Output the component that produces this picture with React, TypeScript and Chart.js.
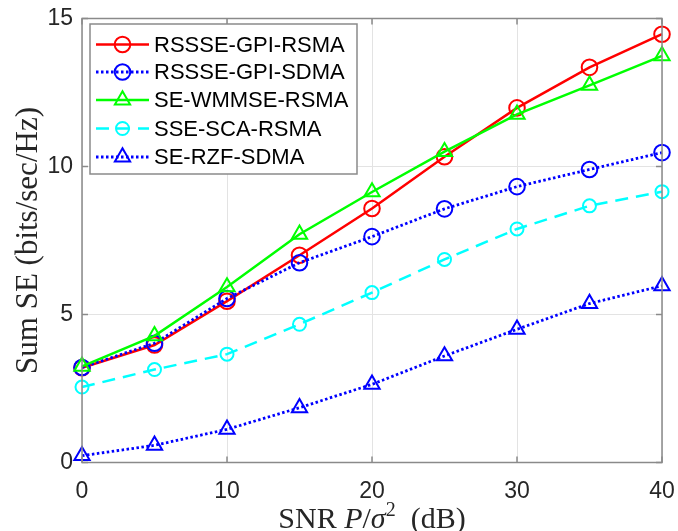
import React, { useEffect, useRef } from "react";
import { Chart, registerables } from "chart.js";

Chart.register(...registerables);

// ---- data ----
const snrDb = [0, 5, 10, 15, 20, 25, 30, 35, 40];
const gpiRsma = [3.2, 3.97, 5.45, 7.0, 8.58, 10.33, 11.98, 13.35, 14.47];
const gpiSdma = [3.21, 4.03, 5.54, 6.75, 7.63, 8.57, 9.32, 9.9, 10.47];
const wmmseRsma = [3.25, 4.28, 5.93, 7.71, 9.14, 10.5, 11.76, 12.74, 13.74];
const scaRsma = [2.55, 3.14, 3.66, 4.67, 5.74, 6.86, 7.89, 8.67, 9.15];
const rzfSdma = [0.23, 0.58, 1.12, 1.85, 2.64, 3.6, 4.5, 5.37, 5.97];
const seriesLabels = ["RSSSE-GPI-RSMA", "RSSSE-GPI-SDMA", "SE-WMMSE-RSMA", "SSE-SCA-RSMA", "SE-RZF-SDMA"];
const xTicks = [0, 10, 20, 30, 40];
const yTicks = [0, 5, 10, 15];

const seriesValues = [gpiRsma, gpiSdma, wmmseRsma, scaRsma, rzfSdma];
const seriesStyles = [
  { color: "#ff0000", dash: [] as number[], marker: "circle", r: 7.8, lw: 2.5 },
  { color: "#0000ff", dash: [2.5, 2.5], marker: "circle", r: 7.8, lw: 2.8 },
  { color: "#00ff00", dash: [] as number[], marker: "triangle", r: 8.8, lw: 2.5 },
  { color: "#00ffff", dash: [13, 8], marker: "circle", r: 6.5, lw: 2.5 },
  { color: "#0000ff", dash: [2.5, 2.5], marker: "triangle", r: 8.8, lw: 2.8 },
];

const AXIS_COLOR = "#8a8a8a";
const TICK_COLOR = "#262626";
const SANS = "'Liberation Sans', Arial, sans-serif";
const SERIF = "'Liberation Serif', 'Times New Roman', serif";

function drawMarker(ctx: CanvasRenderingContext2D, kind: string, x: number, y: number, r: number) {
  ctx.beginPath();
  if (kind === "circle") {
    ctx.arc(x, y, r, 0, Math.PI * 2);
  } else {
    const h = r * 1.5;
    const w = r * Math.sqrt(3);
    ctx.moveTo(x, y - r);
    ctx.lineTo(x + w / 2, y - r + h);
    ctx.lineTo(x - w / 2, y - r + h);
    ctx.closePath();
  }
  ctx.stroke();
}

const framePlugin = {
  id: "matlabFrame",
  afterDraw(chart: any) {
    const ctx: CanvasRenderingContext2D = chart.ctx;
    const { left, right, top, bottom } = chart.chartArea;
    const xs = chart.scales.x;
    const ys = chart.scales.y;
    ctx.save();
    // frame
    ctx.strokeStyle = AXIS_COLOR;
    ctx.lineWidth = 1.5;
    ctx.setLineDash([]);
    ctx.strokeRect(left, top, right - left, bottom - top);
    // inward ticks
    const tl = 6;
    ctx.beginPath();
    xTicks.forEach((t) => {
      const px = xs.getPixelForValue(t);
      ctx.moveTo(px, bottom);
      ctx.lineTo(px, bottom - tl);
      ctx.moveTo(px, top);
      ctx.lineTo(px, top + tl);
    });
    yTicks.forEach((t) => {
      const py = ys.getPixelForValue(t);
      ctx.moveTo(left, py);
      ctx.lineTo(left + tl, py);
      ctx.moveTo(right, py);
      ctx.lineTo(right - tl, py);
    });
    ctx.stroke();

    // legend
    const bx = 90, by = 24, bw = 267, bh = 150;
    ctx.fillStyle = "#ffffff";
    ctx.fillRect(bx, by, bw, bh);
    ctx.strokeStyle = "#8a8a8a";
    ctx.lineWidth = 1.5;
    ctx.strokeRect(bx, by, bw, bh);
    const rowY = [44.5, 72, 100, 128.5, 157];
    ctx.font = `22px ${SANS}`;
    ctx.textBaseline = "middle";
    seriesLabels.forEach((lab, i) => {
      const s = seriesStyles[i];
      const y = rowY[i];
      ctx.strokeStyle = s.color;
      ctx.lineWidth = s.lw;
      ctx.setLineDash(s.dash);
      ctx.beginPath();
      ctx.moveTo(96, y);
      ctx.lineTo(149, y);
      ctx.stroke();
      ctx.setLineDash([]);
      ctx.lineWidth = 2;
      drawMarker(ctx, s.marker, 122.5, y, s.r);
      ctx.fillStyle = "#000000";
      ctx.textAlign = "left";
      ctx.fillText(lab, 154, y + 1);
    });

    // y-axis title
    ctx.fillStyle = TICK_COLOR;
    ctx.save();
    ctx.translate(29, (top + bottom) / 2);
    ctx.rotate(-Math.PI / 2);
    ctx.font = `31px ${SERIF}`;
    ctx.textAlign = "center";
    ctx.textBaseline = "middle";
    ctx.fillText("Sum SE (bits/sec/Hz)", 0, 0);
    ctx.restore();

    // x-axis title with italic parts
    const parts = [
      { t: "SNR ", f: `30px ${SERIF}`, dy: 0 },
      { t: "P", f: `italic 30px ${SERIF}`, dy: 0 },
      { t: "/", f: `30px ${SERIF}`, dy: 0 },
      { t: "σ", f: `italic 30px ${SERIF}`, dy: 0 },
      { t: "2", f: `20px ${SERIF}`, dy: -12 },
      { t: "  (dB)", f: `30px ${SERIF}`, dy: 0 },
    ];
    let total = 0;
    parts.forEach((p) => {
      ctx.font = p.f;
      total += ctx.measureText(p.t).width;
    });
    let cx = (left + right) / 2 - total / 2;
    ctx.textAlign = "left";
    ctx.textBaseline = "alphabetic";
    parts.forEach((p) => {
      ctx.font = p.f;
      ctx.fillText(p.t, cx, 528 + p.dy);
      cx += ctx.measureText(p.t).width;
    });
    ctx.restore();
  },
};

export default function App() {
  const ref = useRef<HTMLCanvasElement>(null);
  useEffect(() => {
    const canvas = ref.current;
    if (!canvas) return;
    const datasets = seriesValues.map((vals, i) => {
      const s = seriesStyles[i];
      return {
        label: seriesLabels[i],
        data: vals.map((v, j) => ({ x: snrDb[j], y: v })),
        borderColor: s.color,
        borderWidth: s.lw,
        borderDash: s.dash,
        pointStyle: s.marker,
        pointRadius: s.r,
        pointBorderWidth: 2,
        pointBorderColor: s.color,
        pointBackgroundColor: "rgba(0,0,0,0)",
        tension: 0,
        fill: false,
        clip: false as any,
        order: seriesValues.length - i,
      };
    });
    const chart = new Chart(canvas, {
      type: "line",
      data: { datasets },
      options: {
        responsive: false,
        animation: false,
        devicePixelRatio: 1,
        layout: { autoPadding: false, padding: { top: 18.5, right: 16, left: 0, bottom: 0 } },
        plugins: { legend: { display: false }, tooltip: { enabled: false } },
        scales: {
          x: {
            type: "linear",
            min: 0,
            max: 40,
            afterBuildTicks: (scale: any) => {
              scale.ticks = xTicks.map((v) => ({ value: v }));
            },
            afterFit: (scale: any) => {
              scale.height = 68.5;
              scale.paddingLeft = 0;
              scale.paddingRight = 0;
            },
            ticks: {
              font: { family: SANS, size: 23 },
              color: TICK_COLOR,
              padding: 15,
              maxRotation: 0,
            },
            grid: { color: "#e3e3e3", lineWidth: 1, drawTicks: false },
            border: { display: false },
          },
          y: {
            type: "linear",
            min: 0,
            max: 15,
            afterBuildTicks: (scale: any) => {
              scale.ticks = yTicks.map((v) => ({ value: v }));
            },
            afterFit: (scale: any) => {
              scale.width = 82;
              scale.paddingTop = 0;
              scale.paddingBottom = 0;
            },
            ticks: {
              font: { family: SANS, size: 23 },
              color: TICK_COLOR,
              padding: 9,
            },
            grid: { color: "#e3e3e3", lineWidth: 1, drawTicks: false },
            border: { display: false },
          },
        },
      } as any,
      plugins: [framePlugin],
    });
    return () => chart.destroy();
  }, []);
  return (
    <div style={{ position: "absolute", left: 0, top: 0, width: 678, height: 531, background: "#fff" }}>
      <canvas ref={ref} width={678} height={531} style={{ width: 678, height: 531, display: "block" }} />
    </div>
  );
}
